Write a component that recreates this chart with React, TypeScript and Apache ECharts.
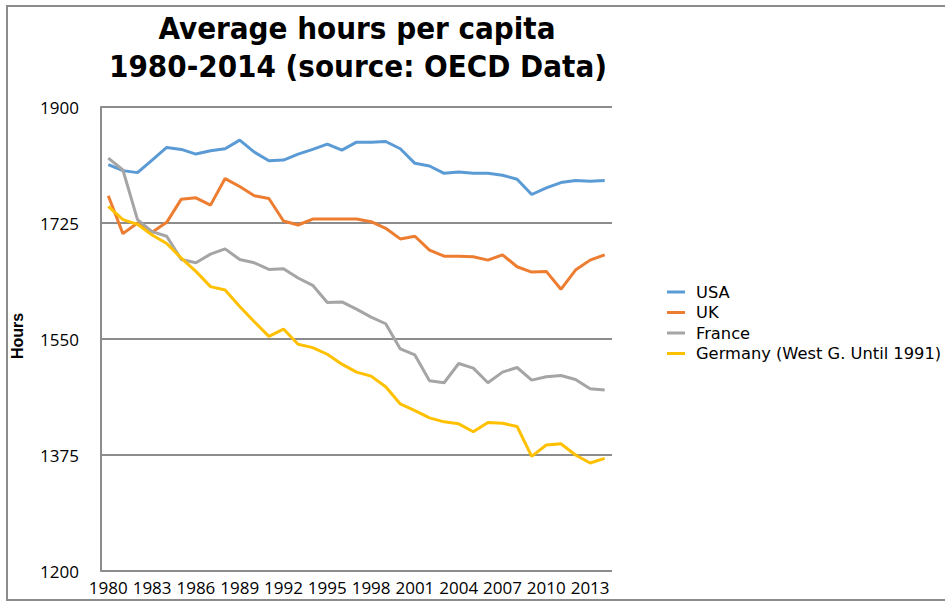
import React, { useEffect, useRef } from "react";
import * as echarts from "echarts";

const years = Array.from({ length: 35 }, (_, i) => String(1980 + i));

const usa = [1813, 1804, 1801, 1820, 1839, 1836, 1829, 1834, 1837, 1850, 1832, 1819, 1820, 1829, 1836, 1844, 1835, 1847, 1847, 1848, 1837, 1815, 1811, 1800, 1802, 1800, 1800, 1797, 1791, 1768, 1778, 1786, 1789, 1788, 1789];
const uk = [1766, 1709, 1725, 1711, 1726, 1761, 1763, 1752, 1792, 1780, 1766, 1762, 1728, 1722, 1731, 1731, 1731, 1731, 1727, 1717, 1701, 1705, 1684, 1675, 1675, 1674, 1669, 1677, 1659, 1651, 1652, 1625, 1654, 1669, 1677];
const france = [1823, 1805, 1730, 1712, 1705, 1670, 1665, 1678, 1686, 1670, 1665, 1655, 1656, 1642, 1631, 1605, 1606, 1595, 1583, 1573, 1535, 1526, 1487, 1484, 1513, 1506, 1484, 1500, 1507, 1488, 1493, 1495, 1489, 1475, 1473];
const germany = [1750, 1730, 1723, 1707, 1694, 1672, 1652, 1629, 1624, 1599, 1576, 1554, 1565, 1542, 1537, 1527, 1512, 1500, 1494, 1478, 1452, 1442, 1431, 1425, 1422, 1410, 1424, 1423, 1418, 1373, 1390, 1392, 1375, 1363, 1370];

const seriesNames = ["USA", "UK", "France", "Germany (West G. Until 1991)"];
const seriesData = [usa, uk, france, germany];
const colors = ["#5B9BD5", "#ED7D31", "#A5A5A5", "#FFC000"];

const titleLines = ["Average hours per capita", "1980-2014 (source: OECD Data)"];
const yAxisName = "Hours";

export default function App() {
  const ref = useRef<HTMLDivElement>(null);
  useEffect(() => {
    document.body.style.margin = "0";
    const chart = echarts.init(ref.current!, null, { renderer: "svg" });
    const titleFont = '"DejaVu Sans Condensed", "Liberation Sans Narrow", sans-serif';
    const labelFont = '"Open Sans", "Liberation Sans", sans-serif';
    chart.setOption({
      animation: false,
      backgroundColor: "#ffffff",
      grid: { left: 101, top: 107, right: 333, bottom: 30, containLabel: false },
      xAxis: {
        type: "category",
        data: years,
        boundaryGap: true,
        axisLine: { show: false },
        axisTick: { show: false },
        axisLabel: {
          interval: 2,
          fontSize: 17,
          color: "#000",
          fontFamily: labelFont,
          margin: 8,
        },
        splitLine: { show: false },
      },
      yAxis: {
        type: "value",
        min: 1200,
        max: 1900,
        interval: 175,
        axisLine: { show: true, lineStyle: { color: "#8c8c8c", width: 2 } },
        axisTick: { show: false },
        axisLabel: {
          fontSize: 17,
          color: "#000",
          fontFamily: labelFont,
          margin: 22,
          formatter: (v: number) => String(v),
        },
        splitLine: { show: true, lineStyle: { color: "#8c8c8c", width: 2 } },
      },
      legend: {
        orient: "vertical",
        left: 662,
        top: 277,
        icon: "rect",
        itemWidth: 18,
        itemHeight: 3,
        itemGap: 0.5,
        data: seriesNames,
        textStyle: {
          fontSize: 16.3,
          lineHeight: 20,
          color: "#000",
          fontFamily: '"DejaVu Sans", sans-serif',
          padding: [0, 0, 0, 6],
        },
      },
      series: seriesNames.map((name, i) => ({
        name,
        type: "line",
        data: seriesData[i],
        showSymbol: false,
        symbol: "none",
        lineStyle: { color: colors[i], width: 3 },
        itemStyle: { color: colors[i] },
      })),
      graphic: [
        {
          type: "rect",
          shape: { x: 7, y: 6, width: 1000, height: 594 },
          style: { fill: "none", stroke: "#8c8c8c", lineWidth: 2 },
          silent: true,
        },
        {
          type: "text",
          x: 357,
          y: 28,
          style: {
            text: titleLines[0],
            fontSize: 31,
            fontWeight: "bold",
            fontFamily: titleFont,
            fill: "#000",
            textAlign: "center",
            textVerticalAlign: "middle",
          },
        },
        {
          type: "text",
          x: 358,
          y: 66,
          style: {
            text: titleLines[1],
            fontSize: 31,
            fontWeight: "bold",
            fontFamily: titleFont,
            fill: "#000",
            textAlign: "center",
            textVerticalAlign: "middle",
          },
        },
        {
          type: "text",
          x: 17,
          y: 336,
          rotation: Math.PI / 2,
          style: {
            text: yAxisName,
            fontSize: 16,
            fontWeight: "bold",
            fontFamily: '"Liberation Sans", sans-serif',
            fill: "#000",
            textAlign: "center",
            textVerticalAlign: "middle",
          },
        },
      ],
    });
    return () => chart.dispose();
  }, []);
  return <div ref={ref} style={{ width: 945, height: 601 }} />;
}
